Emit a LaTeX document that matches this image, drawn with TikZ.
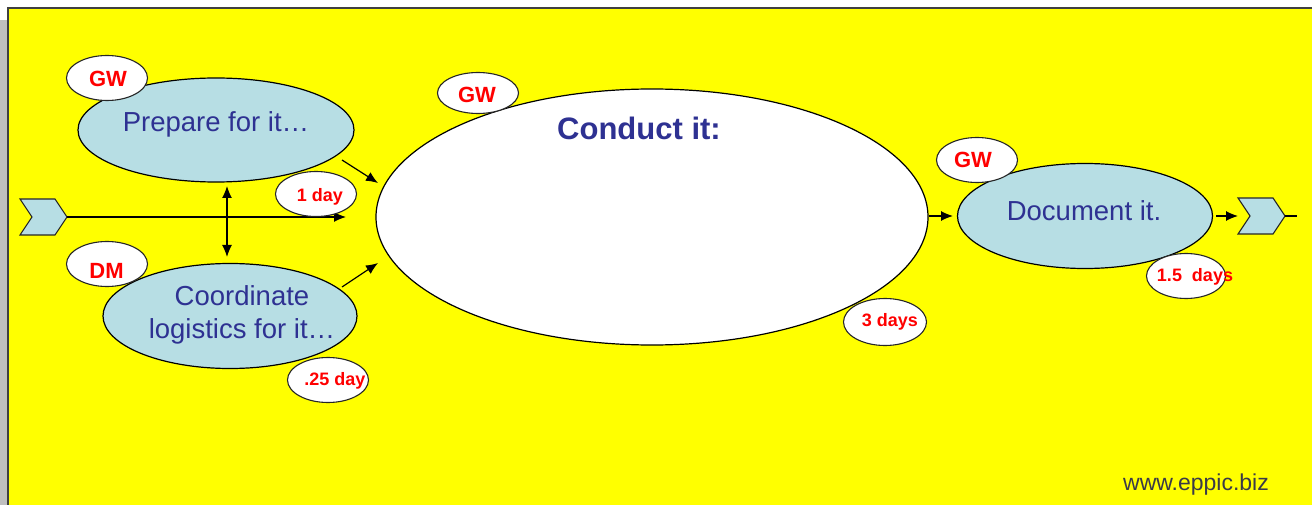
\documentclass[tikz,border=0pt]{standalone}
\usepackage{fontspec}
\setmainfont{Liberation Sans}
\usetikzlibrary{shapes.geometric,arrows.meta}
\definecolor{yel}{HTML}{FFFF00}
\definecolor{lblue}{HTML}{B7DEE4}
\definecolor{navy}{HTML}{2E3192}
\definecolor{rd}{HTML}{FF0000}
\definecolor{frame}{HTML}{404040}
\definecolor{greystrip}{HTML}{BFBFBF}
\definecolor{urlgrey}{HTML}{3A3A48}
\begin{document}
\begin{tikzpicture}[x=1pt,y=-1pt,
  task/.style={ellipse,draw=black,fill=lblue,line width=1.2pt,inner sep=0pt},
  bigtask/.style={ellipse,draw=black,fill=white,line width=1.2pt,inner sep=0pt},
  tag/.style={ellipse,draw=black!85,fill=white,line width=1.1pt,inner sep=0pt,minimum width=81pt,minimum height=45pt},
  tasktext/.style={text=navy,font=\fontsize{27.5}{33}\selectfont,align=center,inner sep=0pt},
  whotext/.style={text=rd,font=\bfseries\fontsize{22}{26}\selectfont,inner sep=0pt},
  durtext/.style={text=rd,font=\bfseries\fontsize{18}{22}\selectfont,inner sep=0pt},
  chev/.style={draw=black!85,fill=lblue,line width=1.1pt},
  arr/.style={-{Latex[length=12pt,width=10pt]},line width=1.2pt},
  darr/.style={{Latex[length=12pt,width=10pt]}-{Latex[length=12pt,width=10pt]},line width=1.2pt}]
\useasboundingbox (0,0) rectangle (1312,505);
% background
\fill[white] (0,0) rectangle (1312,505);
\fill[greystrip] (0,20) rectangle (8,505);
\fill[yel] (8,8) rectangle (1312,505);
\draw[frame,line width=1.2pt] (8,505) -- (8,8) -- (1312,8);

% main ellipses
\node[bigtask,minimum width=552pt,minimum height=256pt] (conduct) at (652,217) {};
\node[text=navy,font=\bfseries\fontsize{31}{36}\selectfont,inner sep=0pt] (conducttxt) at (639,128) {Conduct it:};
\node[task,minimum width=276pt,minimum height=104pt] (prep) at (216,130) {};
\node[tasktext] (preptxt) at (216,124) {Prepare for it…};
\node[task,minimum width=254pt,minimum height=105pt] (coord) at (230,316) {};
\node[tasktext] (coordtxt) at (242,315) {Coordinate\\logistics for it…};
\node[task,minimum width=255pt,minimum height=105pt] (doc) at (1085,216) {};
\node[tasktext] (doctxt) at (1084,211) {Document it.};

% chevrons
\coordinate (lc) at (67,217);
\draw[chev] (20,199) -- (55,199) -- (lc) -- (55,235) -- (20,235) -- (32,217) -- cycle;
\coordinate (rcl) at (1238,216);
\coordinate (rc) at (1285,216);
\coordinate (rend) at (1297,216);
\draw[chev] (1238,198) -- (1273,198) -- (rc) -- (1273,234) -- (1238,234) -- (1250,216) -- cycle;
\draw[line width=1.1pt] (rc) -- (rend);

% connectors
\coordinate (inend) at (346,217);
\draw[arr] (lc) -- (inend);
\coordinate (p1) at (342,160);
\coordinate (p2) at (378,183);
\draw[arr] (p1) -- (p2);
\coordinate (c1) at (342,287);
\coordinate (c2) at (378,263);
\draw[arr] (c1) -- (c2);
\coordinate (v1) at (227,186);
\coordinate (v2) at (227,257);
\draw[darr] (v1) -- (v2);
\coordinate (d1) at (929,216);
\coordinate (d2) at (953,216);
\draw[arr] (d1) -- (d2);
\coordinate (e1) at (1216,216);
\draw[arr] (e1) -- (rcl);

% who tags
\node[tag] (gw1) at (107,78) {};
\node[whotext] at (108,78.5) {GW};
\node[tag] (dm) at (107,264) {};
\node[whotext] at (106.5,271) {DM};
\node[tag,minimum height=41pt] (gw2) at (478,93) {};
\node[whotext] at (477,95) {GW};
\node[tag] (gw3) at (977,160) {};
\node[whotext] at (973,160) {GW};

% duration tags
\node[tag] (t1) at (316,194) {};
\node[durtext] at (320,196.5) {1 day};
\node[tag] (t2) at (328,380) {};
\node[durtext] at (335,381) {.25 day};
\node[tag,minimum width=83pt,minimum height=47pt] (t3) at (885,322) {};
\node[durtext] at (890,322) {3 days};
\node[tag,minimum width=79pt] (t4) at (1186,276) {};
\node[durtext] at (1195,277) {1.5\ \ days};

% url
\node[text=urlgrey,font=\fontsize{23}{27}\selectfont,inner sep=0pt] (url) at (1196,485) {www.eppic.biz};
\end{tikzpicture}
\end{document}
